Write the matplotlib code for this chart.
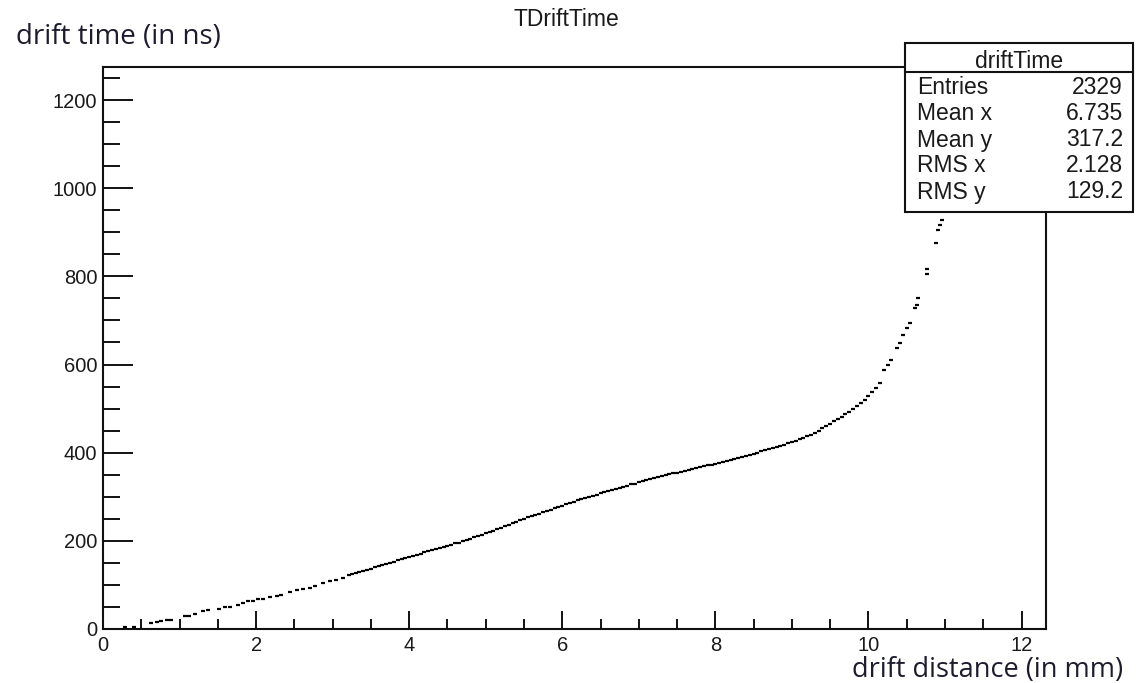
import matplotlib
matplotlib.use("Agg")
import matplotlib.pyplot as plt
from matplotlib.ticker import MultipleLocator
from matplotlib.patches import Rectangle
from matplotlib.lines import Line2D

# drift distance (mm) vs drift time (ns), one entry per hit
dist_mm = [
    0.29, 0.40, 0.63, 0.70, 0.76, 0.83, 0.89, 1.07, 1.13, 1.20, 1.31, 1.37, 1.52, 1.59, 1.66,
    1.76, 1.83, 1.89, 1.96, 2.03, 2.09, 2.18, 2.27, 2.33, 2.44, 2.53, 2.61, 2.70, 2.77, 2.87,
    2.96, 3.05, 3.14, 3.22,
    3.25, 3.30, 3.35, 3.40, 3.45, 3.50, 3.55, 3.60, 3.65, 3.70, 3.75, 3.80, 3.85, 3.90, 3.95,
    4.00, 4.05, 4.10, 4.15, 4.20, 4.25, 4.30, 4.35, 4.40, 4.45, 4.50, 4.55, 4.60, 4.65, 4.70,
    4.75, 4.80, 4.85, 4.90, 4.95, 5.00, 5.05, 5.10, 5.15, 5.20, 5.25, 5.30, 5.35, 5.40, 5.45,
    5.50, 5.55, 5.60, 5.65, 5.70, 5.75, 5.80, 5.85, 5.90, 5.95, 6.00, 6.05, 6.10, 6.15, 6.20,
    6.25, 6.30, 6.35, 6.40, 6.45, 6.50, 6.55, 6.60, 6.65, 6.70, 6.75, 6.80, 6.85, 6.90, 6.95,
    7.00, 7.05, 7.10, 7.15, 7.20, 7.25, 7.30, 7.35, 7.40, 7.45, 7.50, 7.55, 7.60, 7.65, 7.70,
    7.75, 7.80, 7.85, 7.90, 7.95, 8.00, 8.05, 8.10, 8.15, 8.20, 8.25, 8.30, 8.35, 8.40, 8.45,
    8.50, 8.55, 8.60, 8.65, 8.70, 8.75, 8.80, 8.85, 8.90, 8.95, 9.00, 9.05, 9.10, 9.15, 9.20,
    9.25, 9.30, 9.35, 9.40, 9.45, 9.50, 9.55, 9.60, 9.65, 9.70, 9.75, 9.80, 9.85, 9.90, 9.95,
    10.00, 10.05, 10.10, 10.15,
    10.21, 10.26, 10.30, 10.37, 10.41, 10.45, 10.50, 10.54, 10.61, 10.63, 10.65, 10.76, 10.76,
    10.88, 10.91, 10.93, 10.96, 11.02, 11.08, 11.15,
]
time_ns = [
    4, 4, 14, 15, 19, 20, 20, 29, 30, 34, 40, 42, 45, 50, 50,
    55, 60, 63, 64, 67, 69, 73, 76, 78, 85, 88, 91, 93, 98, 104,
    108, 112, 116, 123,
    124, 127, 129, 132, 134, 137, 140, 143, 145, 148, 150, 153, 156, 159, 161,
    164, 166, 169, 171, 174, 176, 179, 181, 184, 186, 189, 191, 194, 196, 199,
    202, 205, 208, 211, 214, 217, 220, 223, 227, 230, 233, 237, 240, 243, 247,
    250, 253, 256, 259, 262, 265, 268, 271, 274, 277, 280, 283, 286, 289, 292,
    294, 297, 300, 302, 305, 308, 310, 313, 315, 318, 320, 323, 325, 328, 330,
    333, 335, 338, 340, 342, 344, 347, 349, 351, 353, 355, 357, 359, 361, 363,
    365, 367, 369, 371, 373, 375, 377, 379, 381, 383, 385, 388, 390, 393, 395,
    398, 400, 403, 405, 408, 410, 413, 415, 418, 421, 424, 427, 430, 433, 437,
    441, 445, 450, 455, 460, 466, 471, 476, 481, 487, 492, 498, 505, 512, 520,
    528, 537, 547, 558,
    588, 600, 611, 637, 649, 668, 683, 694, 728, 736, 751, 805, 816,
    876, 906, 917, 929, 980, 1040, 1110,
]

stat_names = ["Entries", "Mean x", "Mean y", "RMS x", "RMS y"]
stat_values = ["2329", "6.735", "317.2", "2.128", "129.2"]

W, H = 1136, 683
fig = plt.figure(figsize=(W / 100, H / 100), dpi=100)
ax = fig.add_axes([103 / W, 1 - 629 / H, (1046 - 103) / W, (629 - 67) / H])

root_font = "Liberation Sans"
txt_col = "#1a1a1a"
cap_font = "Open Sans"
cap_col = "#1c1c2e"

ax.plot(dist_mm, time_ns, linestyle="none", marker="_", markersize=3.4,
        markeredgewidth=1.6, color="black")

ax.set_xlim(0, 12.32)
ax.set_ylim(0, 1275)
ax.xaxis.set_major_locator(MultipleLocator(2))
ax.xaxis.set_minor_locator(MultipleLocator(0.5))
ax.yaxis.set_major_locator(MultipleLocator(200))
ax.yaxis.set_minor_locator(MultipleLocator(50))

for s in ax.spines.values():
    s.set_linewidth(1.5)
    s.set_color("#111111")

ax.tick_params(axis="both", which="both", direction="in", top=False, right=False,
               width=1.4, color="#111111", labelcolor=txt_col)
ax.tick_params(axis="x", which="major", length=13, pad=5)
ax.tick_params(axis="x", which="minor", length=7)
ax.tick_params(axis="y", which="major", length=21.5, pad=4)
ax.tick_params(axis="y", which="minor", length=12)
for lab in ax.get_xticklabels() + ax.get_yticklabels():
    lab.set_fontfamily(root_font)
    lab.set_fontsize(14.5)

# title and axis captions
fig.text(566 / W, 1 - 19 / H, "TDriftTime", ha="center", va="center",
         fontsize=16.5, family=root_font, color=txt_col)
fig.text(16 / W, 1 - 44 / H, "drift time (in ns)", ha="left", va="baseline",
         fontsize=20, family=cap_font, color=cap_col)
fig.text(1123 / W, 1 - 677 / H, "drift distance (in mm)", ha="right", va="baseline",
         fontsize=19.5, family=cap_font, color=cap_col)

# statistics box
bx0, bx1, by0, by1, bsep = 905, 1133, 43, 212, 72
fig.add_artist(Rectangle((bx0 / W, 1 - by1 / H), (bx1 - bx0) / W, (by1 - by0) / H,
                         transform=fig.transFigure, facecolor="white",
                         edgecolor="#111111", linewidth=1.5, zorder=5))
fig.add_artist(Line2D([bx0 / W, bx1 / W], [1 - bsep / H, 1 - bsep / H],
                      transform=fig.transFigure, color="#111111", linewidth=1.5, zorder=6))
fig.text((bx0 + bx1) / 2 / W, 1 - 61 / H, "driftTime", ha="center", va="center",
         fontsize=16.5, family=root_font, color=txt_col, zorder=7)
row_y = [88, 114, 140, 166, 192]
for name, val, ry in zip(stat_names, stat_values, row_y):
    fig.text(917 / W, 1 - ry / H, name, ha="left", va="center",
             fontsize=16.5, family=root_font, color=txt_col, zorder=7)
    fig.text(1123 / W, 1 - ry / H, val, ha="right", va="center",
             fontsize=16.5, family=root_font, color=txt_col, zorder=7)

fig.savefig("out.png", dpi=100, facecolor="white")
